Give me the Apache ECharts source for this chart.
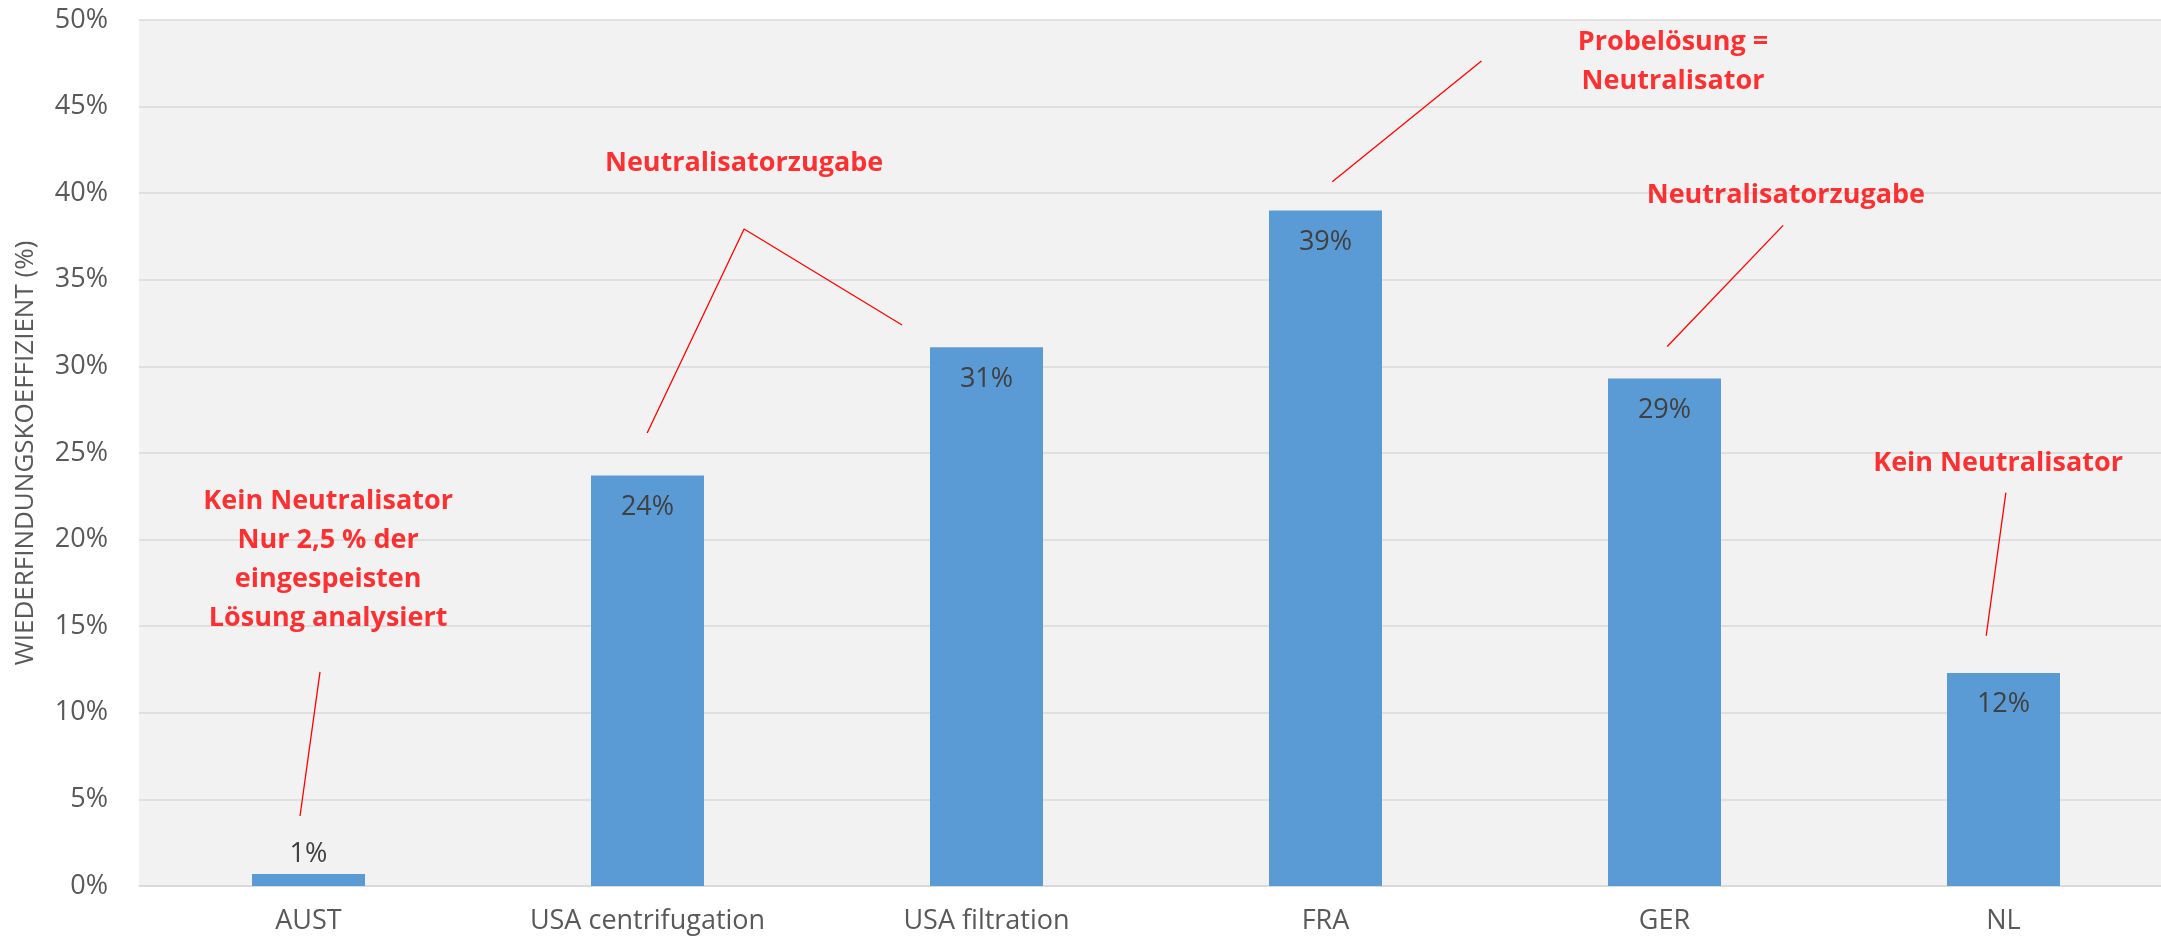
<!DOCTYPE html>
<html>
<head>
<meta charset="utf-8">
<script src="https://cdn.jsdelivr.net/npm/echarts@6/dist/echarts.min.js"></script>
<style>
  html, body { margin: 0; padding: 0; background: #fff; overflow: hidden; }
  /* etwas breiter als das Fenster: die Plotfläche ist rechts angeschnitten */
  #chart { width: 2173px; height: 943px; }
</style>
</head>
<body>
<div id="chart"></div>
<script>
// Kategorien und Werte (Wiederfindung in %)
const categories = ['AUST', 'USA centrifugation', 'USA filtration', 'FRA', 'GER', 'NL']
const recovery = [0.7, 23.7, 31.1, 39.0, 29.3, 12.3]
const yTicks = [0, 5, 10, 15, 20, 25, 30, 35, 40, 45, 50]

// Anmerkungen: Text und Ankerpunkt (x = Kategorieposition, y = %)
const noteTexts = [
    'Kein Neutralisator\nNur 2,5 % der\neingespeisten\nLösung analysiert',
    'Neutralisatorzugabe',
    'Probelösung =\nNeutralisator',
    'Neutralisatorzugabe',
    'Kein Neutralisator'
]
const noteAnchors = [[0.058, 18.85], [1.285, 41.74], [4.025, 47.56], [4.358, 39.86], [4.984, 24.41]]
// Hinweislinien (Polylinien in Datenkoordinaten)
const noteLines = [
    [[0.034, 12.36], [-0.025, 4.04]],
    [[0.999, 26.15], [1.285, 37.93], [1.751, 32.39]],
    [[3.020, 40.66], [3.460, 47.63]],
    [[4.008, 31.15], [4.350, 38.14]],
    [[4.949, 14.45], [5.007, 22.71]]
]

const font = 'Open Sans'
const myCharts = echarts.init(document.getElementById('chart'))

let barData = recovery.map((v, i) => ({
    value: v,
    label: i === 0
        ? { position: 'top', distance: 6 }
        : { position: 'insideTop', distance: 18 }
}))

let lineSeries = noteLines.map(pts => ({
    type: 'line',
    xAxisIndex: 1,
    yAxisIndex: 0,
    data: pts,
    symbol: 'none',
    silent: true,
    z: 5,
    lineStyle: { color: '#FF0000', width: 1.3 }
}))

let option = {
    backgroundColor: '#fff',
    animation: false,
    grid: {
        left: 139,
        right: 0,
        top: 20,
        bottom: 57,
        show: true,
        backgroundColor: '#F2F2F2',
        borderWidth: 0
    },
    xAxis: [
        {
            type: 'category',
            data: categories,
            axisLine: { lineStyle: { color: '#D9D9D9', width: 1.5 } },
            axisTick: { show: false },
            axisLabel: {
                color: '#595959',
                fontFamily: font,
                fontSize: 27,
                margin: 22
            }
        },
        {
            type: 'value',
            min: -0.5,
            max: 5.5,
            show: false
        }
    ],
    yAxis: {
        type: 'value',
        min: 0,
        max: yTicks[yTicks.length - 1],
        interval: yTicks[1] - yTicks[0],
        name: 'WIEDERFINDUNGSKOEFFIZIENT (%)',
        nameLocation: 'middle',
        nameRotate: 90,
        nameGap: 100,
        nameTextStyle: {
            color: '#595959',
            fontFamily: font,
            fontSize: 26
        },
        axisLine: { show: false },
        axisTick: { show: false },
        axisLabel: {
            color: '#595959',
            fontFamily: font,
            fontSize: 27,
            margin: 31,
            formatter: v => v + '%'
        },
        splitLine: { lineStyle: { color: '#D9D9D9', width: 1.5 } }
    },
    series: [
        {
            type: 'bar',
            data: barData,
            barWidth: 113,
            itemStyle: { color: '#5B9BD5' },
            label: {
                show: true,
                color: '#404040',
                fontFamily: font,
                fontSize: 27,
                formatter: p => Math.round(p.value) + '%'
            },
            z: 3
        },
        ...lineSeries,
        {
            type: 'scatter',
            xAxisIndex: 1,
            yAxisIndex: 0,
            symbolSize: 0,
            silent: true,
            z: 6,
            data: noteAnchors.map((p, i) => ({ value: p, text: noteTexts[i] })),
            label: {
                show: true,
                position: 'inside',
                align: 'center',
                verticalAlign: 'middle',
                color: '#FF0000',
                fontFamily: font,
                fontWeight: 'bold',
                fontSize: 27,
                lineHeight: 39,
                formatter: p => p.data.text
            }
        }
    ]
}

myCharts.setOption(option)
window.onresize = myCharts.resize
</script>
</body>
</html>
